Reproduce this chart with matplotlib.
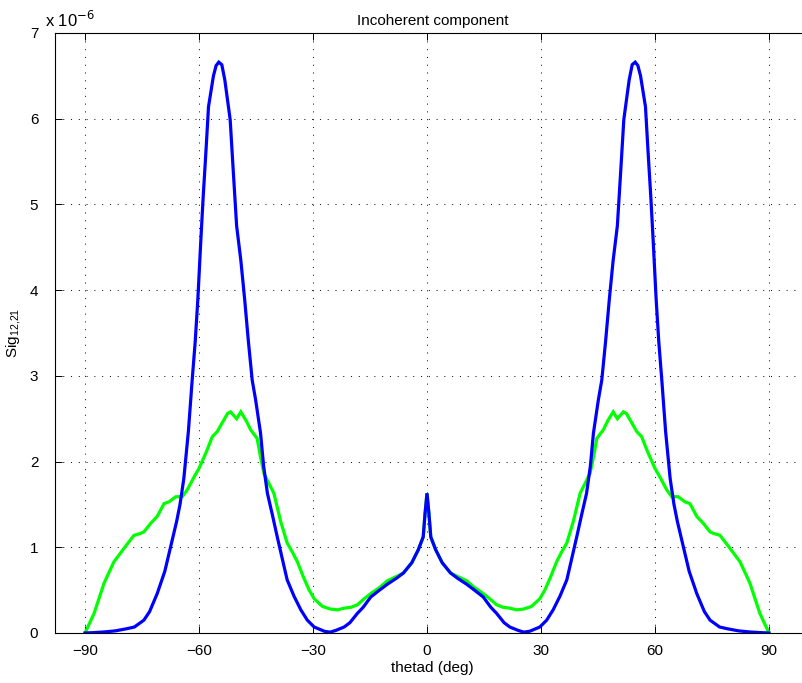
import numpy as np
import matplotlib
matplotlib.use("Agg")
import matplotlib.pyplot as plt

plt.rcParams['font.family'] = ['Liberation Sans', 'DejaVu Sans']

# angles for theta >= 0 (the curves are symmetric about 0)
theta_blue = [0, 0.5, 1.0, 2.3, 4, 6.2, 8, 10.4, 12.5, 14.8, 16.8, 18.3, 20.3, 21.8, 24, 25.5,
              27, 29.7, 31.5, 33.2, 35, 36.8, 38, 39.4, 40.7, 42.0, 43, 43.8, 45.1, 46.0,
              47, 48, 49, 50.1, 51.0, 51.8, 53.2, 54.0, 54.8, 55.5, 56.2, 57.5, 58.2, 58.9,
              59.5, 60.3, 61.0, 61.8, 62.8, 64, 65, 65.9, 67.5, 69, 71.0, 73, 74.5, 77, 79,
              82, 85, 88, 90]
sig_blue = [1.63, 1.40, 1.12, 0.97, 0.82, 0.70, 0.64, 0.57, 0.50, 0.42, 0.30, 0.23, 0.12, 0.07, 0.03, 0.01,
            0.02, 0.07, 0.15, 0.27, 0.43, 0.62, 0.85, 1.12, 1.38, 1.63, 1.95, 2.33, 2.72, 2.95,
            3.40, 3.90, 4.35, 4.75, 5.40, 5.99, 6.45, 6.63, 6.66, 6.62, 6.50, 6.14, 5.60, 5.09,
            4.60, 3.90, 3.40, 2.95, 2.35, 1.80, 1.50, 1.30, 1.00, 0.72, 0.46, 0.25, 0.15, 0.07, 0.05,
            0.025, 0.012, 0.004, 0.0]

theta_green = [0, 0.5, 1.0, 2.3, 4, 6.2, 8, 10.4, 12.5, 14.8, 16.5, 18.3, 20, 21.8, 23.5, 25.5,
               27.5, 29.7, 31, 32.5, 34.1, 35.5, 36.8, 38.5, 40.3, 42.9, 43.8, 44.7, 46.4, 47.5,
               49.0, 50.1, 51.7, 52.5, 53.4, 55.2, 56.5, 58, 60, 61.3, 63.1, 64.4, 66.1, 67.9,
               69.2, 71, 72.7, 74.5, 75.5, 77.1, 79.7, 82.4, 85, 87.6, 90]
sig_green = [1.63, 1.40, 1.12, 0.97, 0.82, 0.70, 0.66, 0.61, 0.53, 0.46, 0.40, 0.33, 0.30, 0.29, 0.27, 0.28,
             0.31, 0.40, 0.50, 0.65, 0.83, 0.95, 1.05, 1.30, 1.63, 1.86, 2.05, 2.27, 2.37, 2.47,
             2.58, 2.50, 2.58, 2.56, 2.49, 2.35, 2.29, 2.12, 1.92, 1.82, 1.67, 1.59, 1.59, 1.53,
             1.51, 1.36, 1.28, 1.18, 1.16, 1.14, 0.99, 0.83, 0.58, 0.23, 0.0]

xticks = [-90, -60, -30, 0, 30, 60, 90]
yticks = [0, 1, 2, 3, 4, 5, 6, 7]


def mirror(t, s):
    t = np.array(t, dtype=float)
    s = np.array(s, dtype=float)
    return np.concatenate([-t[::-1], t[1:]]), np.concatenate([s[::-1], s[1:]])


xb, yb = mirror(theta_blue, sig_blue)
xg, yg = mirror(theta_green, sig_green)

fig = plt.figure(figsize=(8.02, 6.83), dpi=100)
ax = fig.add_axes([55 / 802, 50 / 683, 755 / 802, 600 / 683])

ax.plot(xg, yg, color=(0, 1, 0), lw=2.3, solid_joinstyle='miter')
ax.plot(xb, yb, color=(0, 0, 1), lw=2.3, solid_joinstyle='miter')

ax.set_xlim(-97.9, 100.8)
ax.set_ylim(0, 7)
ax.set_xticks(xticks)
ax.set_yticks(yticks)
ax.grid(True, color='black', linestyle=(0, (1, 7)), linewidth=0.7)
ax.tick_params(direction='in', top=True, right=True, length=5, width=0.7,
               labelsize=11)
ax.tick_params(axis='x', pad=8)
ax.tick_params(axis='y', pad=12)
for sp in ax.spines.values():
    sp.set_linewidth(0.8)

ax.set_title('Incoherent component', fontsize=11, pad=6)
ax.set_xlabel('thetad (deg)', fontsize=11, labelpad=2)
ax.set_ylabel(r'Sig$_{\mathregular{12{,}21}}$', fontsize=11, labelpad=4)
fig.text(45 / 802, 1 - 27 / 683, r'x 10$^{-6}$', fontsize=12, ha='left', va='baseline')

fig.savefig('out.png', dpi=100)
